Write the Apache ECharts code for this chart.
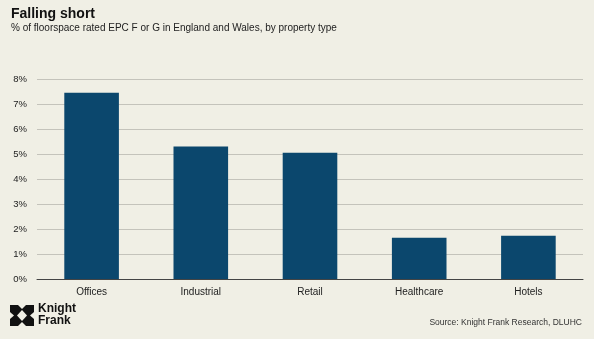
<!DOCTYPE html>
<html><head><meta charset="utf-8">
<script src="https://cdn.jsdelivr.net/npm/echarts@6/dist/echarts.min.js"></script>
<style>html,body{margin:0;padding:0;background:#f0efe5;}#c{width:594px;height:339px;}</style>
</head><body><div id="c"></div>
<script>
const categories = ['Offices', 'Industrial', 'Retail', 'Healthcare', 'Hotels'];
const values = [7.45, 5.3, 5.05, 1.65, 1.73];
const yTicks = [0, 1, 2, 3, 4, 5, 6, 7, 8];

const chart = echarts.init(document.getElementById('c'), null, {renderer: 'canvas'});
const F = 'Liberation Sans, Arial, sans-serif';
chart.setOption({
  backgroundColor: '#f0efe5',
  animation: false,
  title: [
    {text: 'Falling short', left: 11, top: 7, padding: 0, textStyle: {fontFamily: F, fontSize: 14, fontWeight: 'bold', color: '#111'}},
    {text: '% of floorspace rated EPC F or G in England and Wales, by property type', left: 11, top: 23, padding: 0, textStyle: {fontFamily: F, fontSize: 10, fontWeight: 'normal', color: '#222'}},
    {text: 'Source: Knight Frank Research, DLUHC', right: 12, top: 318, padding: 0, textStyle: {fontFamily: F, fontSize: 8.5, fontWeight: 'normal', color: '#333'}}
  ],
  grid: {left: 37, right: 11, top: 79, bottom: 60},
  xAxis: {
    type: 'category', data: categories,
    axisLine: {lineStyle: {color: '#444', width: 1}},
    axisTick: {show: false},
    axisLabel: {fontFamily: F, fontSize: 10, color: '#222', margin: 8}
  },
  yAxis: {
    type: 'value', min: yTicks[0], max: yTicks[yTicks.length - 1], interval: 1,
    axisLine: {show: false}, axisTick: {show: false},
    axisLabel: {fontFamily: F, fontSize: 9.5, color: '#222', margin: 10, formatter: v => v + '%'},
    splitLine: {lineStyle: {color: '#c4c3bb', width: 1}}
  },
  series: [{
    type: 'bar', data: values, barWidth: '50%',
    itemStyle: {color: '#0b476d'}
  }],
  graphic: [
    {type: 'rect', shape: {x: 10, y: 305, width: 24, height: 21}, style: {fill: '#111'}},
    {type: 'polygon', shape: {points: [[22, 310], [27, 315.5], [22, 321], [17, 315.5]]}, style: {fill: '#f0efe5'}},
    {type: 'polygon', shape: {points: [[18, 305], [26, 305], [22, 309]]}, style: {fill: '#f0efe5'}},
    {type: 'polygon', shape: {points: [[18, 326], [26, 326], [22, 322]]}, style: {fill: '#f0efe5'}},
    {type: 'polygon', shape: {points: [[10, 312], [10, 319], [14, 315.5]]}, style: {fill: '#f0efe5'}},
    {type: 'polygon', shape: {points: [[34, 312], [34, 319], [30, 315.5]]}, style: {fill: '#f0efe5'}},
    {type: 'text', left: 38, top: 303, style: {text: 'Knight', font: 'bold 12px ' + F, fill: '#111'}},
    {type: 'text', left: 38, top: 315, style: {text: 'Frank', font: 'bold 12px ' + F, fill: '#111'}}
  ]
});
</script></body></html>
